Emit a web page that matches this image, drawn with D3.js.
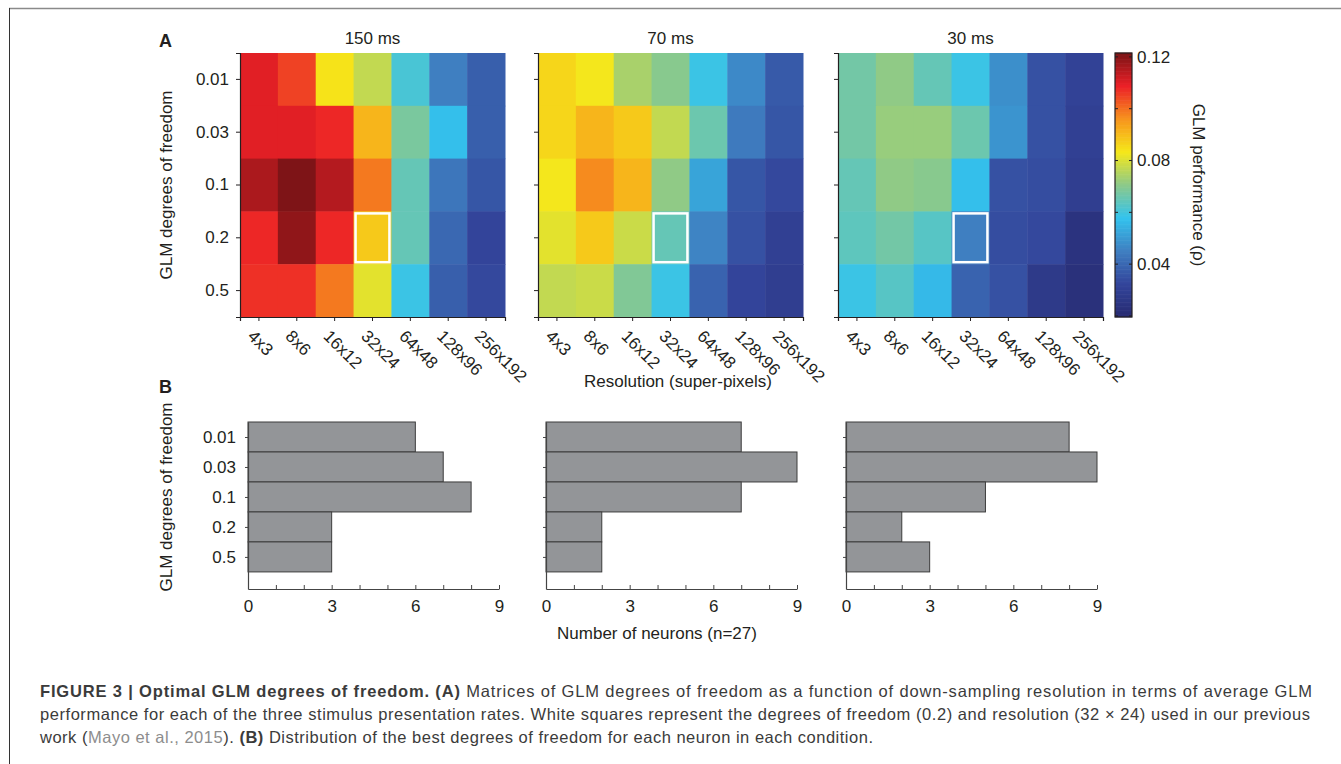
<!DOCTYPE html>
<html>
<head>
<meta charset="utf-8">
<script src="https://cdn.jsdelivr.net/npm/d3@7/dist/d3.min.js"></script>
<style>
  body { margin: 0; background: #fff; }
  svg { display: block; font-family: "Liberation Sans", Arial, sans-serif; }
</style>
</head>
<body>
<svg id="fig" width="1341" height="764"></svg>
<script>
// data
const resolutions = ['4x3', '8x6', '16x12', '32x24', '64x48', '128x96', '256x192']
const dofs = ['0.01', '0.03', '0.1', '0.2', '0.5']
const rates = ['150 ms', '70 ms', '30 ms']

// GLM performance, rows = dof, cols = resolution
const perf150 = [
  [0.110, 0.105, 0.084, 0.077, 0.061, 0.045, 0.038],
  [0.110, 0.110, 0.108, 0.091, 0.068, 0.057, 0.038],
  [0.116, 0.121, 0.115, 0.099, 0.065, 0.043, 0.036],
  [0.108, 0.119, 0.108, 0.088, 0.065, 0.040, 0.032],
  [0.107, 0.107, 0.099, 0.081, 0.059, 0.038, 0.033]
]
const perf70 = [
  [0.086, 0.083, 0.074, 0.070, 0.059, 0.047, 0.037],
  [0.086, 0.091, 0.088, 0.077, 0.066, 0.044, 0.036],
  [0.083, 0.097, 0.091, 0.071, 0.052, 0.036, 0.033],
  [0.081, 0.088, 0.078, 0.065, 0.046, 0.035, 0.030],
  [0.077, 0.078, 0.069, 0.059, 0.039, 0.032, 0.029]
]
const perf30 = [
  [0.067, 0.071, 0.065, 0.059, 0.048, 0.035, 0.031],
  [0.067, 0.072, 0.072, 0.066, 0.049, 0.035, 0.030],
  [0.065, 0.071, 0.070, 0.057, 0.035, 0.034, 0.029],
  [0.064, 0.067, 0.063, 0.045, 0.034, 0.033, 0.024],
  [0.059, 0.063, 0.056, 0.039, 0.035, 0.027, 0.023]
]
const perfAll = [perf150, perf70, perf30]

// best dof counts per neuron (n=27)
const counts150 = [6, 7, 8, 3, 3]
const counts70 = [7, 9, 7, 2, 2]
const counts30 = [8, 9, 5, 2, 3]
const countsAll = [counts150, counts70, counts30]

const cbarTicks = [0.04, 0.08, 0.12]
const cbarMinor = [0.02, 0.04, 0.06, 0.08, 0.10, 0.12]
const countTicks = [0, 3, 6, 9]
const markedDof = '0.2'
const markedRes = '32x24'

const svg = d3.select('#fig')
const ink = '#231f20'
const fs = 17

// jet-like map as it looks in print
const jetPos = [0, 0.125, 0.25, 0.375, 0.5, 0.625, 0.75, 0.875, 1]
const jetCol = ['#272a70', '#33459b', '#3f7fc1', '#33c3ee', '#8cc98a', '#f6e819', '#f7941d', '#ec2027', '#7a1416']
const jet = d3.scaleLinear().domain(jetPos).range(jetCol).clamp(true)
const cmin = 0.0196
const cmax = 0.1215
const color = v => jet((v - cmin) / (cmax - cmin))

// frame
svg.append('line').attr('x1', 9).attr('x2', 1341).attr('y1', 8.5).attr('y2', 8.5)
  .attr('stroke', '#8a8a8a').attr('stroke-width', 1.6)
svg.append('line').attr('x1', 9.5).attr('x2', 9.5).attr('y1', 8).attr('y2', 764)
  .attr('stroke', '#333').attr('stroke-width', 1)

// ---------- panel A ----------
const heatLeft = [240, 538, 838]
const heatW = 265
const heatTop = 53
const heatH = 264

svg.append('text').attr('x', 159).attr('y', 47).text('A')
  .attr('font-size', 18).attr('font-weight', 'bold').attr('fill', ink)

perfAll.forEach(function (grid, p) {
  const g = svg.append('g').attr('transform', `translate(${heatLeft[p]},${heatTop})`)
  const x = d3.scaleBand().domain(resolutions).range([0, heatW])
  const y = d3.scaleBand().domain(dofs).range([0, heatH])

  const cells = []
  grid.forEach(function (row, i) {
    row.forEach(function (v, j) {
      cells.push({ dof: dofs[i], res: resolutions[j], v: v })
    })
  })
  g.selectAll('rect.cell').data(cells).enter().append('rect')
    .attr('class', 'cell')
    .attr('x', d => x(d.res))
    .attr('y', d => y(d.dof))
    .attr('width', x.bandwidth() + 0.5)
    .attr('height', y.bandwidth() + 0.5)
    .attr('fill', d => color(d.v))

  g.append('rect')
    .attr('x', x(markedRes) + 2).attr('y', y(markedDof) + 2)
    .attr('width', x.bandwidth() - 4).attr('height', y.bandwidth() - 4)
    .attr('fill', 'none').attr('stroke', '#fff').attr('stroke-width', 2.5)

  const yAxis = g.append('g').call(d3.axisLeft(y).tickSize(4).tickPadding(7))
  const xAxis = g.append('g').attr('transform', `translate(0,${heatH})`)
    .call(d3.axisBottom(x).tickSize(4))
  ;[yAxis, xAxis].forEach(function (a) {
    a.select('.domain').attr('stroke', ink).attr('stroke-width', 1.2)
    a.selectAll('.tick line').attr('stroke', ink)
    a.selectAll('text').attr('font-size', fs).attr('fill', ink)
      .attr('font-family', '"Liberation Sans", Arial, sans-serif')
  })
  if (p > 0) yAxis.selectAll('text').remove()
  xAxis.selectAll('text')
    .attr('text-anchor', 'start')
    .attr('x', 0).attr('y', 0).attr('dy', '0.35em')
    .attr('transform', 'translate(-8,16) rotate(45)')

  g.append('text').attr('x', heatW / 2).attr('y', -9).attr('text-anchor', 'middle')
    .attr('font-size', fs).attr('fill', ink).text(rates[p])
})

svg.append('text')
  .attr('transform', `translate(172,${heatTop + heatH / 2}) rotate(-90)`)
  .attr('text-anchor', 'middle').attr('font-size', fs).attr('fill', ink)
  .text('GLM degrees of freedom')

svg.append('text').attr('x', 678).attr('y', 387).attr('text-anchor', 'middle')
  .attr('font-size', fs).attr('fill', ink).text('Resolution (super-pixels)')

// colour bar
const cbX = 1115
const cbW = 17
const cbScale = d3.scaleLinear().domain([cmin, cmax]).range([heatTop + heatH, heatTop])
const steps = d3.range(0, 200).map(i => cmin + (cmax - cmin) * i / 200)
const cb = svg.append('g')
cb.selectAll('rect').data(steps).enter().append('rect')
  .attr('x', cbX).attr('width', cbW)
  .attr('y', d => cbScale(d + (cmax - cmin) / 200) - 0.3)
  .attr('height', Math.abs(cbScale(cmin) - cbScale(cmin + (cmax - cmin) / 200)) + 0.6)
  .attr('fill', d => color(d + (cmax - cmin) / 400))
cb.append('rect').attr('x', cbX).attr('y', heatTop).attr('width', cbW).attr('height', heatH)
  .attr('fill', 'none').attr('stroke', ink).attr('stroke-width', 1.2)
cb.selectAll('line.mt').data(cbarMinor).enter().append('line')
  .attr('x1', cbX + cbW - 3).attr('x2', cbX + cbW)
  .attr('y1', d => cbScale(d)).attr('y2', d => cbScale(d))
  .attr('stroke', ink)
cb.selectAll('line.ml').data(cbarMinor).enter().append('line')
  .attr('x1', cbX).attr('x2', cbX + 3)
  .attr('y1', d => cbScale(d)).attr('y2', d => cbScale(d))
  .attr('stroke', ink)
cb.selectAll('text').data(cbarTicks).enter().append('text')
  .attr('x', cbX + cbW + 5).attr('y', d => cbScale(d)).attr('dy', '0.35em')
  .attr('font-size', fs).attr('fill', ink).text(d => d3.format('.2f')(d))
svg.append('text')
  .attr('transform', `translate(1193,${heatTop + heatH / 2}) rotate(90)`)
  .attr('text-anchor', 'middle').attr('font-size', fs).attr('fill', ink)
  .text('GLM performance (ρ)')

// ---------- panel B ----------
svg.append('text').attr('x', 159).attr('y', 393).text('B')
  .attr('font-size', 18).attr('font-weight', 'bold').attr('fill', ink)

const barLeft = [248, 546, 846]
const barW = 251
const barTop = 422
const barBottom = 589

countsAll.forEach(function (counts, p) {
  const g = svg.append('g').attr('transform', `translate(${barLeft[p]},0)`)
  const x = d3.scaleLinear().domain([0, 9]).range([0, barW])
  const y = d3.scaleLinear().domain([0.5, 6.07]).range([barTop, barBottom])
  const data = counts.map((c, i) => ({ dof: dofs[i], idx: i + 1, c: c }))

  g.selectAll('rect').data(data).enter().append('rect')
    .attr('x', x(0))
    .attr('y', d => y(d.idx - 0.5))
    .attr('width', d => x(d.c) - x(0))
    .attr('height', y(1.5) - y(0.5))
    .attr('fill', '#939598').attr('stroke', '#3c3c3c').attr('stroke-width', 1)

  const yAxis = g.append('g')
    .call(d3.axisLeft(y).tickValues(d3.range(1, 6)).tickSize(3).tickSizeOuter(0)
      .tickFormat(i => dofs[i - 1]).tickPadding(9))
  const xAxis = g.append('g').attr('transform', `translate(0,${barBottom})`)
    .call(d3.axisBottom(x).tickValues(d3.range(0, 10)).tickSize(-4).tickSizeOuter(0)
      .tickFormat(v => countTicks.includes(v) ? v : '').tickPadding(11))
  ;[yAxis, xAxis].forEach(function (a) {
    a.select('.domain').attr('stroke', '#444').attr('stroke-width', 1.2)
    a.selectAll('.tick line').attr('stroke', '#444')
    a.selectAll('text').attr('font-size', fs).attr('fill', ink)
      .attr('font-family', '"Liberation Sans", Arial, sans-serif')
  })
  if (p > 0) yAxis.selectAll('text').remove()
})

svg.append('text')
  .attr('transform', `translate(172,497) rotate(-90)`)
  .attr('text-anchor', 'middle').attr('font-size', fs).attr('fill', ink)
  .text('GLM degrees of freedom')
svg.append('text').attr('x', 657).attr('y', 639).attr('text-anchor', 'middle')
  .attr('font-size', fs).attr('fill', ink).text('Number of neurons (n=27)')

// ---------- caption ----------
const capText = '#3b3b3b'
const capLink = '#8d8d8d'
const captionLines = [
  [['FIGURE 3 | Optimal GLM degrees of freedom. (A)', 'b'], [' Matrices of GLM degrees of freedom as a function of down-sampling resolution in terms of average GLM', 'n']],
  [['performance for each of the three stimulus presentation rates. White squares represent the degrees of freedom (0.2) and resolution (32 × 24) used in our previous', 'n']],
  [['work (', 'n'], ['Mayo et al., 2015', 'l'], ['). ', 'n'], ['(B)', 'b'], [' Distribution of the best degrees of freedom for each neuron in each condition.', 'n']]
]
const capBase = [697, 720, 743]
const capWidth = [1272, 1270, 833]
captionLines.forEach(function (parts, i) {
  const t = svg.append('text').attr('x', 40).attr('y', capBase[i])
    .attr('font-size', 16.5).attr('fill', capText)
    .attr('font-family', '"Liberation Sans", Arial, sans-serif')
  parts.forEach(function (pt) {
    t.append('tspan').text(pt[0])
      .attr('font-weight', pt[1] === 'b' ? 'bold' : null)
      .attr('fill', pt[1] === 'l' ? capLink : capText)
  })
  // stretch spacing so the line spans the same width as the print
  const w = t.node().getComputedTextLength()
  const n = parts.map(pt => pt[0]).join('').length
  t.attr('letter-spacing', (capWidth[i] - w) / (n - 1))
})
</script>
</body>
</html>
